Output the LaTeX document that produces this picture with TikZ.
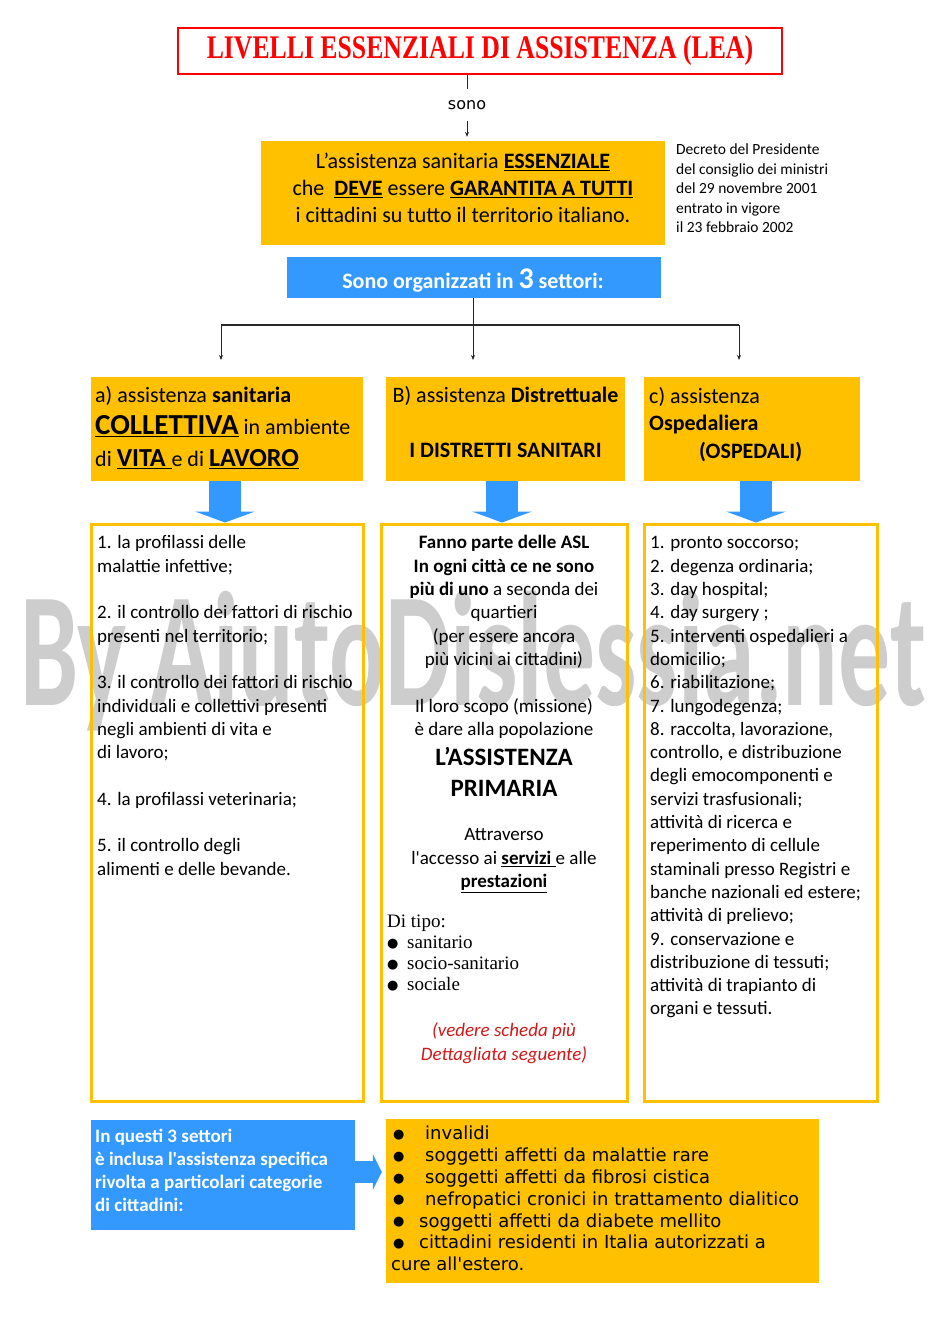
\documentclass[tikz,border=0pt]{standalone}
\usepackage{fontspec}
\setmainfont{Carlito}
\newfontfamily\calibri{Carlito}
\newfontfamily\titlefont{Liberation Serif}
\newfontfamily\timesfont{Liberation Serif}
\newfontfamily\comicfont{DejaVu Sans}
\newfontfamily\sonofont{DejaVu Sans}
\usetikzlibrary{arrows.meta,positioning}
\definecolor{leayellow}{HTML}{FFC000}
\definecolor{leablue}{HTML}{3399FF}
\definecolor{leared}{HTML}{FF0000}
\definecolor{notered}{HTML}{D01818}
\definecolor{markgray}{HTML}{CDCDCD}
\newcommand{\setfs}[2]{\fontsize{#1}{#2}\selectfont}
\newcommand{\dotmark}{\raisebox{1.5pt}{\comicfont\setfs{13}{13}●}}
\newcommand{\bulTipo}{\makebox[20pt][l]{\dotmark}}
\newcommand{\bulA}{\makebox[34pt][l]{\hspace{2pt}\dotmark}}
\newcommand{\bulB}{\makebox[28pt][l]{\hspace{2pt}\dotmark}}

\begin{document}
\calibri
\begin{tikzpicture}[x=1pt,y=-1pt,
  every node/.style={inner sep=0pt},
  ybox/.style={rectangle,fill=leayellow},
  bbox/.style={rectangle,fill=leablue},
  hdr/.style={ybox,minimum height=104pt},
  lst/.style={rectangle,draw=leayellow,line width=3pt,minimum height=577pt},
  txt/.style={align=left,font=\setfs{19}{23.3}},
  arr/.style={-{Stealth[length=5pt,width=4pt]},line width=1pt,black!85},
  fatdown/.style={leablue,line width=32pt,-{Triangle[length=11pt,width=60pt,line width=0pt]}},
  fatright/.style={leablue,line width=22pt,-{Triangle[length=9pt,width=36pt,line width=0pt]}}
]
\useasboundingbox (0,0) rectangle (950,1344);

% watermark behind everything
\node[anchor=base west,text=markgray] (mark) at (20,705)
  {\scalebox{0.637}[1]{\bfseries\setfs{163}{163}By AiutoDislessia.net}};

% title and definition
\node[draw=leared,line width=2pt,fill=white,minimum width=604pt,minimum height=46pt,text=leared] (title) at (480,51)
  {\scalebox{0.78}[1]{\titlefont\bfseries\setfs{33}{33}LIVELLI ESSENZIALI DI ASSISTENZA (LEA)}};
\node[font=\sonofont\setfs{16}{16},inner ysep=11pt] (sono) at (467,105) {sono};
\node[ybox,minimum width=404pt,minimum height=104pt] (ess) at (463,193) {};
\node[align=center,font=\setfs{22}{27}] (esstext) at (463,188)
  {L’assistenza sanitaria \underline{\textbf{ESSENZIALE}}\\
   che\ \ \underline{\textbf{DEVE}} essere \underline{\textbf{GARANTITA A TUTTI}}\\
   i cittadini su tutto il territorio italiano.};
\node[anchor=north west,align=left,font=\setfs{15.5}{19.5}] (decree) at (676,141)
  {\strut Decreto del Presidente\\del consiglio dei ministri\\del 29 novembre 2001\\entrato in vigore\\il 23 febbraio 2002};
\draw[line width=1pt,black!85] (title.south -| sono.north) -- (sono.north);
\draw[arr,shorten >=4pt] (sono.south) -- (sono.south |- ess.north);

% three sectors
\node[bbox,minimum width=374pt,minimum height=41pt] (org) at (474,277.5) {};
\node[text=white,font=\bfseries\setfs{22}{22}] (orgtext) at (473,281)
  {Sono organizzati in {\setfs{30}{30}3} settori:};
\coordinate (fork) at (473,325);
\coordinate (tipA) at (221,360);
\coordinate (tipB) at (473,360);
\coordinate (tipC) at (739,360);
\draw[line width=1.2pt,black!85] (tipA |- fork) -- (tipC |- fork);
\draw[arr] (org.south -| tipB) -- (tipB);
\draw[arr] (tipA |- fork) -- (tipA);
\draw[arr] (tipC |- fork) -- (tipC);

\node[hdr,minimum width=272pt] (secA) at (227,429) {};
\node[hdr,minimum width=239pt] (secB) at (505.5,429) {};
\node[hdr,minimum width=216pt] (secC) at (752,429) {};
\node[anchor=north west,align=left,font=\setfs{22}{32}] (secAtext) at (95,380.2)
  {\strut a) assistenza \textbf{sanitaria}\\
   {\setfs{29}{32}\underline{\textbf{COLLETTIVA}}} {\setfs{22}{32}in ambiente}\\
   di {\setfs{26}{32}\underline{\textbf{VITA }}}e di {\setfs{26}{32}\underline{\textbf{LAVORO}}}};
\node[anchor=north,align=center,font=\setfs{22}{27}] (secBtext) at (505.5,383.7)
  {\strut B) assistenza \textbf{Distrettuale}\\[28pt]\textbf{I DISTRETTI SANITARI}};
\node[anchor=north west,align=left,font=\setfs{22}{27}] (secCtext) at (649,384.7)
  {\strut c) assistenza\\\textbf{Ospedaliera}\\[1pt]\hspace*{50pt}\textbf{(OSPEDALI)}};

% lists
\node[lst,minimum width=272pt] (boxA) at (227,812.5) {};
\node[lst,minimum width=246pt] (boxB) at (504,812.5) {};
\node[lst,minimum width=233pt] (boxC) at (760.5,812.5) {};
\draw[fatdown] (secA.south -| 225,0) -- (boxA.north -| 225,0);
\draw[fatdown] (secB.south -| 502,0) -- (boxB.north -| 502,0);
\draw[fatdown] (secC.south -| 756,0) -- (boxC.north -| 756,0);

\node[txt,anchor=north west] (listA) at (97,532.4)
  {\strut 1. la profilassi delle\\malattie infettive;\\[23.3pt]
   2. il controllo dei fattori di rischio\\presenti nel territorio;\\[23.3pt]
   3. il controllo dei fattori di rischio\\individuali e collettivi presenti\\negli ambienti di vita e\\di lavoro;\\[23.3pt]
   4. la profilassi veterinaria;\\[23.3pt]
   5. il controllo degli\\alimenti e delle bevande.};
\node[txt,anchor=north,align=center] (listB) at (504,532.4)
  {\strut\textbf{Fanno parte delle ASL}\\\textbf{In ogni città ce ne sono}\\\textbf{più di uno} a seconda dei\\quartieri\\
   (per essere ancora\\più vicini ai cittadini)\\[23.3pt]Il loro scopo (missione)\\è dare alla popolazione};
\node[anchor=north,align=center,font=\bfseries\setfs{25}{31}] (primaria) at (504,743.3)
  {\strut L’ASSISTENZA\\PRIMARIA};
\node[anchor=north,align=center,font=\setfs{19}{23.5}] (access) at (504,824.2)
  {\strut Attraverso\\l'accesso ai \underline{\textbf{servizi }}e alle\\\underline{\textbf{prestazioni}}};
\node[anchor=north west,align=left,font=\timesfont\setfs{19}{21}] (tipo) at (387,913)
  {\strut Di tipo:\\\bulTipo sanitario\\\bulTipo socio-sanitario\\\bulTipo sociale};
\node[align=center,font=\itshape\setfs{19}{24},text=notered] (seguente) at (504,1043)
  {(vedere scheda più\\Dettagliata seguente)};
\node[txt,anchor=north west] (listC) at (650,532.4)
  {\strut 1. pronto soccorso;\\2. degenza ordinaria;\\3. day hospital;\\4. day surgery ;\\5. interventi ospedalieri a\\domicilio;\\
   6. riabilitazione;\\7. lungodegenza;\\8. raccolta, lavorazione,\\controllo, e distribuzione\\degli emocomponenti e\\servizi trasfusionali;\\
   attività di ricerca e\\reperimento di cellule\\staminali presso Registri e\\banche nazionali ed estere;\\attività di prelievo;\\
   9. conservazione e\\distribuzione di tessuti;\\attività di trapianto di\\organi e tessuti.};

% special categories
\node[bbox,minimum width=264pt,minimum height=110pt] (catinfo) at (223,1175) {};
\node[anchor=north west,align=left,text=white,font=\bfseries\setfs{19}{23}] (catinfotext) at (95,1126.6)
  {\strut In questi 3 settori\\è inclusa l'assistenza specifica\\rivolta a particolari categorie\\di cittadini:};
\node[ybox,minimum width=433pt,minimum height=164pt] (catlist) at (602.5,1201) {};
\node[anchor=north west,align=left,font=\comicfont\setfs{18}{21.8}] (catlisttext) at (391,1124.5)
  {\strut\bulA invalidi\\\bulA soggetti affetti da malattie rare\\\bulA soggetti affetti da fibrosi cistica\\
   \bulA nefropatici cronici in trattamento dialitico\\\bulB soggetti affetti da diabete mellito\\
   \bulB cittadini residenti in Italia autorizzati a\\cure all'estero.};
\draw[fatright] (catinfo.east |- 0,1172) -- ([xshift=-4pt]catlist.west |- 0,1172);
\end{tikzpicture}
\end{document}
